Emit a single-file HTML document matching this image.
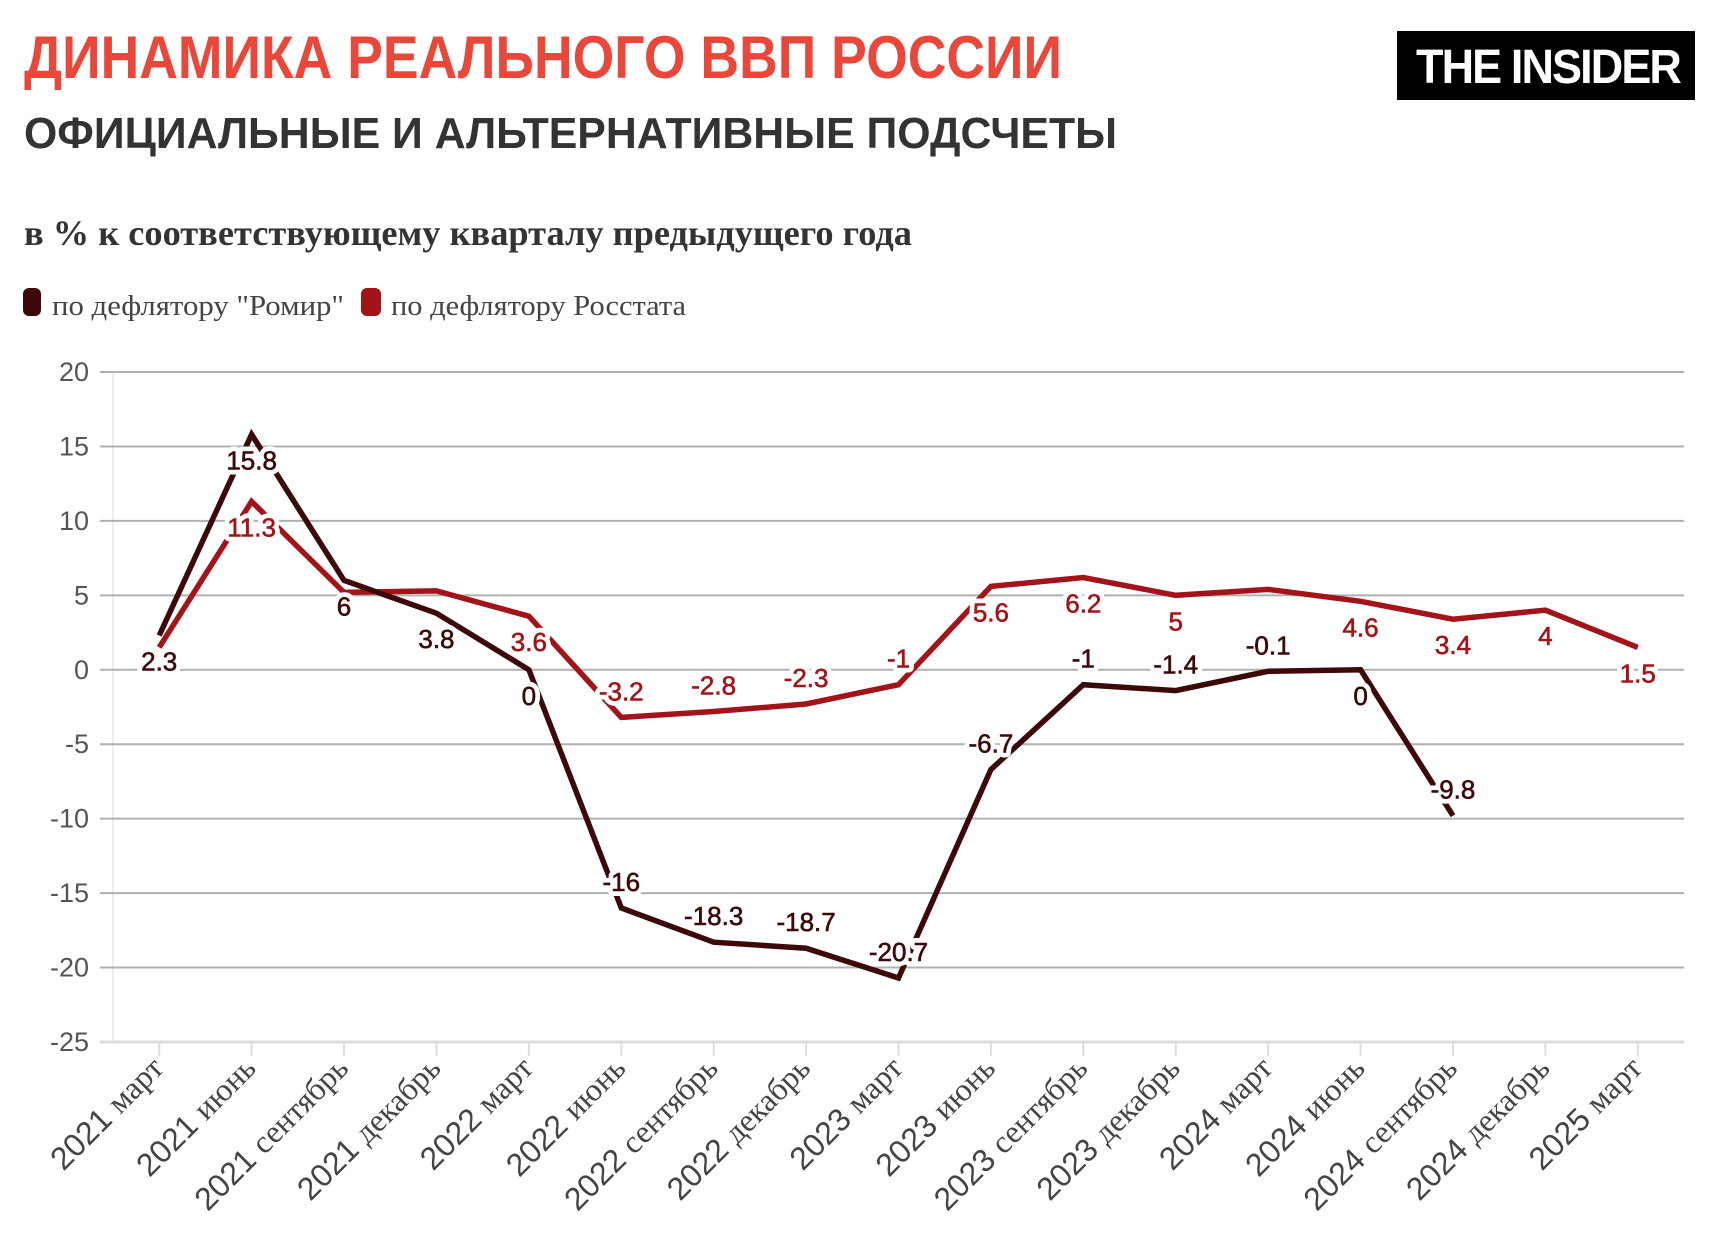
<!DOCTYPE html>
<html><head><meta charset="utf-8"><style>
html,body{margin:0;padding:0;background:#fff;}
svg{display:block;}
</style></head><body>
<svg id="s" width="1732" height="1254" xmlns="http://www.w3.org/2000/svg">
<text x="24" y="78" font-family="Liberation Sans, sans-serif" font-weight="bold" font-size="60" fill="#e8473a" textLength="1038" lengthAdjust="spacingAndGlyphs">ДИНАМИКА РЕАЛЬНОГО ВВП РОССИИ</text>
<text x="24" y="148" font-family="Liberation Sans, sans-serif" font-weight="bold" font-size="44" fill="#333" textLength="1093" lengthAdjust="spacingAndGlyphs">ОФИЦИАЛЬНЫЕ И АЛЬТЕРНАТИВНЫЕ ПОДСЧЕТЫ</text>
<text x="24" y="245" font-family="Liberation Serif, serif" font-weight="bold" font-size="36" fill="#333" textLength="888" lengthAdjust="spacingAndGlyphs">в % к соответствующему кварталу предыдущего года</text>
<rect x="23" y="288" width="18" height="28" rx="6" fill="#3d0808"/>
<text x="52" y="315" font-family="Liberation Serif, serif" font-size="28" fill="#444" textLength="292" lengthAdjust="spacingAndGlyphs">по дефлятору "Ромир"</text>
<rect x="361" y="288" width="20" height="28" rx="6" fill="#a3141a"/>
<text x="391" y="315" font-family="Liberation Serif, serif" font-size="28" fill="#444" textLength="295" lengthAdjust="spacingAndGlyphs">по дефлятору Росстата</text>
<rect x="1397" y="31" width="298" height="69" fill="#000"/>
<text x="1416" y="83" font-family="Liberation Sans, sans-serif" font-weight="bold" font-size="48" fill="#fff" textLength="264" lengthAdjust="spacingAndGlyphs" letter-spacing="-2">THE INSIDER</text>
<g id="g"></g>
</svg>
<script>
var g=document.getElementById('g'),h='';
function Y(v){return 372+(20-v)*14.889;}
var L=113,R=1684,bw=(R-L)/17;
function X(i){return L+bw*(i+0.5);}
h+='<line x1="113" y1="372" x2="113" y2="1042" stroke="#eee" stroke-width="2"/>';
for(var v=20;v>=-25;v-=5){var y=Y(v);
 if(v>-25)h+='<line x1="100" y1="'+y+'" x2="'+R+'" y2="'+y+'" stroke="#b0b0b0" stroke-width="2"/>';
 h+='<text x="89" y="'+(y+9)+'" text-anchor="end" font-family="Liberation Sans, sans-serif" font-size="27" fill="#555">'+v+'</text>';}
h+='<line x1="100" y1="1042" x2="'+R+'" y2="1042" stroke="#ddd" stroke-width="3"/>';
var cats=['2021 март','2021 июнь','2021 сентябрь','2021 декабрь','2022 март','2022 июнь','2022 сентябрь','2022 декабрь','2023 март','2023 июнь','2023 сентябрь','2023 декабрь','2024 март','2024 июнь','2024 сентябрь','2024 декабрь','2025 март'];
for(var i=0;i<17;i++){var x=X(i);h+='<line x1="'+x+'" y1="1042" x2="'+x+'" y2="1056" stroke="#ddd" stroke-width="2"/>';
 var p=cats[i].split(' ');
 h+='<text transform="translate('+(x+6)+',1070) rotate(-45)" text-anchor="end" font-size="32" fill="#444"><tspan font-family="Liberation Sans, sans-serif">'+p[0]+' </tspan><tspan font-family="Liberation Serif, serif">'+p[1]+'</tspan></text>';}
var ro=[1.5,11.3,5.2,5.3,3.6,-3.2,-2.8,-2.3,-1,5.6,6.2,5,5.4,4.6,3.4,4,1.5];
var rl=[null,1,null,null,1,-1,-1,-1,-1,1,1,1,null,1,1,1,1];
var dm=[2.3,15.8,6,3.8,0,-16,-18.3,-18.7,-20.7,-6.7,-1,-1.4,-0.1,0,-9.8];
var dl=[1,1,1,1,1,-1,-1,-1,-1,-1,-1,-1,-1,1,-1];
function line(d,c){var s='';for(var i=0;i<d.length;i++)s+=(i?'L':'M')+X(i).toFixed(1)+','+Y(d[i]).toFixed(1);return '<path d="'+s+'" fill="none" stroke="'+c+'" stroke-width="5.5" stroke-linejoin="miter"/>';}
h+=line(ro,'#a3141a');h+=line(dm,'#3d0808');
function labs(d,l,c){var s='';for(var i=0;i<d.length;i++){if(l[i]==null)continue;var y=Y(d[i])+l[i]*26+9;
 var a='x="'+X(i)+'" y="'+y+'" text-anchor="middle" font-family="Liberation Sans, sans-serif" font-size="26" ';
 s+='<text '+a+'fill="#fff" stroke="#fff" stroke-width="10" stroke-linejoin="round">'+d[i]+'</text>';
 s+='<text '+a+'fill="'+c+'" stroke="'+c+'" stroke-width="0.6">'+d[i]+'</text>';}return s;}
h+=labs(ro,rl,'#a3141a');h+=labs(dm,dl,'#3d0808');
g.innerHTML=h;
</script>
</body></html>
